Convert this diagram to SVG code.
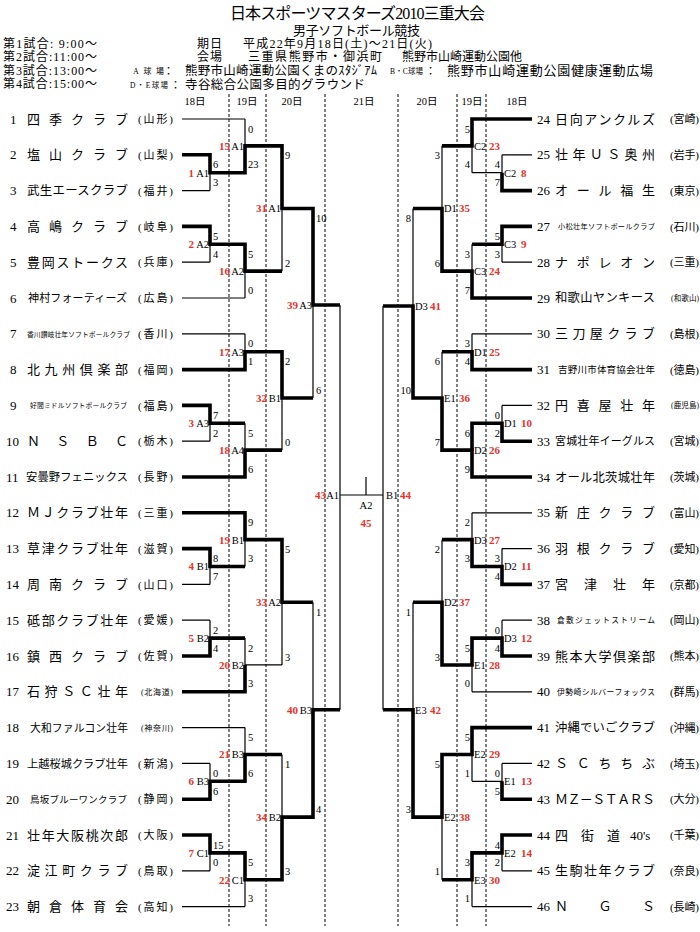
<svg xmlns="http://www.w3.org/2000/svg" width="700" height="932" viewBox="0 0 700 932">
<style>
text{font-family:"Liberation Serif","Noto Sans CJK JP",serif;fill:#000}
.no{font-size:13px}
.nm{font-size:13px}
.pf{font-size:11px}
.sc{font-size:10.5px}
.cd{font-size:10.5px}
.rd{font-size:11px;fill:#e8322c;font-weight:bold}
.dy{font-size:10.5px;text-anchor:middle}
.e{text-anchor:end}
.m{text-anchor:middle}
.ln{fill:none;stroke:#000;stroke-width:1.2}
.w{fill:none;stroke:#000;stroke-width:3.6;stroke-linejoin:miter}
.dash{stroke:#000;stroke-width:1;stroke-dasharray:3 2}
</style>
<rect width="700" height="932" fill="#fff"/>
<g id="header">
<text x="230" y="19" font-size="16" textLength="255">日本スポーツマスターズ2010三重大会</text>
<text x="293" y="35" font-size="13" textLength="127">男子ソフトボール競技</text>
<text x="3" y="47.5" font-size="12" textLength="94">第1試合: 9:00～</text>
<text x="3" y="61" font-size="12" textLength="94">第2試合:11:00～</text>
<text x="3" y="74.5" font-size="12" textLength="94">第3試合:13:00～</text>
<text x="3" y="88" font-size="12" textLength="94">第4試合:15:00～</text>
<text x="197" y="47.5" font-size="12" textLength="25">期日</text>
<text x="243" y="47.5" font-size="12" textLength="189">平成22年9月18日(土)～21日(火)</text>
<text x="197" y="61" font-size="12" textLength="25">会場</text>
<text x="248" y="61" font-size="12" textLength="134">三重県熊野市・御浜町</text>
<text x="402" y="61" font-size="12" textLength="120">熊野市山崎運動公園他</text>
<text x="133" y="74" font-size="8" textLength="31">A球場</text>
<text x="163" y="74.5" font-size="11">：</text>
<text x="185" y="74.5" font-size="12.5" textLength="192">熊野市山崎運動公園くまのｽﾀｼﾞｱﾑ</text>
<text x="390" y="74" font-size="7.5" textLength="33">B・C球場</text>
<text x="425" y="74.5" font-size="11">：</text>
<text x="447" y="75" font-size="13" textLength="206">熊野市山崎運動公園健康運動広場</text>
<text x="130" y="87.5" font-size="7.5" textLength="38">D・E球場</text>
<text x="170" y="88.5" font-size="11">：</text>
<text x="185" y="88.5" font-size="12.5" textLength="180">寺谷総合公園多目的グラウンド</text>
<text class="dy" x="195" y="105">18日</text>
<text class="dy" x="247" y="105">19日</text>
<text class="dy" x="292" y="105">20日</text>
<text class="dy" x="364" y="105">21日</text>
<text class="dy" x="427" y="105">20日</text>
<text class="dy" x="472" y="105">19日</text>
<text class="dy" x="517" y="105">18日</text>
</g>
<g id="day-lines">
<path class="dash" d="M229 94V926M266 94V926M325 94V926M398 94V926M457 94V926M486 94V926"/>
</g>
<g id="connectors">
<path class="ln" d="M182 119H245M182 154.8H210M182 190.6H210M182 226.4H210M182 262.2H210M182 298H245M182 333.8H245M182 369.6H245M182 405.4H210M182 441.2H210M182 477H245M182 512.8H245M182 548.6H210M182 584.4H210M182 620.2H210M182 656H210M182 691.8H245M182 727.6H245M182 763.4H210M182 799.2H210M182 835H210M182 870.8H210M182 906.6H245
M210 154.8V190.6M210 172.7H245M210 226.4V262.2M210 244.3H245M210 405.4V441.2M210 423.3H245M210 548.6V584.4M210 566.5H245M210 620.2V656M210 638.1H245M210 763.4V799.2M210 781.3H245M210 835V870.8M210 852.9H245
M245 119V172.7M245 145.85H282M245 244.3V298M245 271.15H282M245 333.8V369.6M245 351.7H282M245 423.3V477M245 450.15H282M245 512.8V566.5M245 539.65H282M245 638.1V691.8M245 664.95H282M245 727.6V781.3M245 754.45H282M245 852.9V906.6M245 879.75H282
M282 145.85V271.15M282 208.5H313M282 351.7V450.15M282 398H313M282 539.65V664.95M282 602.3H313M282 754.45V879.75M282 817.1H313
M313 208.5V398M313 305H340M313 602.3V817.1M313 709.7H340
M340 305V709.7M340 495H383M366 477V495M383 306V709.7"/>
<path class="ln" d="M532 119H472M532 154.8H502M532 190.6H502M532 226.4H502M532 262.2H502M532 298H472M532 333.8H472M532 369.6H472M532 405.4H502M532 441.2H502M532 477H472M532 512.8H472M532 548.6H502M532 584.4H502M532 620.2H502M532 656H502M532 691.8H472M532 727.6H472M532 763.4H502M532 799.2H502M532 835H502M532 870.8H502M532 906.6H472
M502 154.8V190.6M502 172.7H472M502 226.4V262.2M502 244.3H472M502 405.4V441.2M502 423.3H472M502 548.6V584.4M502 566.5H472M502 620.2V656M502 638.1H472M502 763.4V799.2M502 781.3H472M502 835V870.8M502 852.9H472
M472 119V172.7M472 145.85H442M472 244.3V298M472 271.15H442M472 333.8V369.6M472 351.7H442M472 423.3V477M472 450.15H442M472 512.8V566.5M472 539.65H442M472 638.1V691.8M472 664.95H442M472 727.6V781.3M472 754.45H442M472 852.9V906.6M472 879.75H442
M442 145.85V271.15M442 208.5H413M442 351.7V450.15M442 398H413M442 539.65V664.95M442 602.3H413M442 754.45V879.75M442 817.1H413
M413 208.5V398M413 306H383M413 602.3V817.1M413 709.7H383"/>
<path class="w" d="M182 154.8H210V172.7H245V145.85H282V208.5H313V305H340"/>
<path class="w" d="M182 226.4H210V244.3H245V271.15H282"/>
<path class="w" d="M182 369.6H245V351.7H282V398H313"/>
<path class="w" d="M182 405.4H210V423.3H245"/>
<path class="w" d="M182 477H245V450.15H282"/>
<path class="w" d="M182 512.8H245V539.65H282V602.3H313"/>
<path class="w" d="M182 548.6H210V566.5H245"/>
<path class="w" d="M182 656H210V638.1H245"/>
<path class="w" d="M182 691.8H245V664.95"/>
<path class="w" d="M182 799.2H210V781.3H245V754.45H282"/>
<path class="w" d="M182 835H210V852.9H245V879.75H282V817.1H313V709.7H340"/>
<path class="w" d="M532 119H472V145.85H442"/>
<path class="w" d="M532 190.6H502V172.7"/>
<path class="w" d="M532 226.4H502V244.3H472"/>
<path class="w" d="M532 298H472V271.15H442V208.5H413"/>
<path class="w" d="M532 369.6H472V351.7H442"/>
<path class="w" d="M532 441.2H502V423.3H472V450.15"/>
<path class="w" d="M532 477H472V450.15H442V398H413V306H383"/>
<path class="w" d="M532 584.4H502V566.5H472V539.65H442"/>
<path class="w" d="M532 656H502V638.1H472V664.95H442V602.3H413"/>
<path class="w" d="M532 727.6H472V754.45H442V817.1H413V709.7H383"/>
<path class="w" d="M532 799.2H502V781.3"/>
<path class="w" d="M532 835H502V852.9H472V879.75H442"/>
</g>
<g id="teams-left">
<g id="team-1"><text class="no" x="10" y="123.5">1</text><text class="nm" x="27" y="123.5" textLength="101">四季クラブ</text><text class="pf" x="138" y="123.2" textLength="35">(山形)</text></g>
<g id="team-2"><text class="no" x="10" y="159.3">2</text><text class="nm" x="27" y="159.3" textLength="101">塩山クラブ</text><text class="pf" x="138" y="159" textLength="35">(山梨)</text></g>
<g id="team-3"><text class="no" x="10" y="195.1">3</text><text class="nm" x="27" y="195.1" textLength="101" style="font-size:12.5px">武生エースクラブ</text><text class="pf" x="138" y="194.8" textLength="35">(福井)</text></g>
<g id="team-4"><text class="no" x="10" y="230.9">4</text><text class="nm" x="27" y="230.9" textLength="101">高嶋クラブ</text><text class="pf" x="138" y="230.6" textLength="35">(岐阜)</text></g>
<g id="team-5"><text class="no" x="10" y="266.7">5</text><text class="nm" x="27" y="266.7" textLength="101">豊岡ストークス</text><text class="pf" x="138" y="266.4" textLength="35">(兵庫)</text></g>
<g id="team-6"><text class="no" x="10" y="302.5">6</text><text class="nm" x="28" y="302.3" textLength="99" style="font-size:11px">神村フォーティーズ</text><text class="pf" x="138" y="302.2" textLength="35">(広島)</text></g>
<g id="team-7"><text class="no" x="10" y="338.3">7</text><text class="nm" x="27" y="336.6" textLength="103" style="font-size:6.8px">香川讃岐壮年ソフトボールクラブ</text><text class="pf" x="138" y="338" textLength="35">(香川)</text></g>
<g id="team-8"><text class="no" x="10" y="374.1">8</text><text class="nm" x="27" y="374.1" textLength="101">北九州倶楽部</text><text class="pf" x="138" y="373.8" textLength="35">(福岡)</text></g>
<g id="team-9"><text class="no" x="10" y="409.9">9</text><text class="nm" x="30" y="408.2" textLength="97" style="font-size:6.8px">好間ミドルソフトボールクラブ</text><text class="pf" x="138" y="409.6" textLength="35">(福島)</text></g>
<g id="team-10"><text class="no" x="6" y="445.7">10</text><text class="nm" x="27" y="445.7" textLength="101">ＮＳＢＣ</text><text class="pf" x="138" y="445.4" textLength="35">(栃木)</text></g>
<g id="team-11"><text class="no" x="6" y="481.5">11</text><text class="nm" x="26" y="481.2" textLength="102" style="font-size:11.3px">安曇野フェニックス</text><text class="pf" x="138" y="481.2" textLength="35">(長野)</text></g>
<g id="team-12"><text class="no" x="6" y="517.3">12</text><text class="nm" x="27" y="517.3" textLength="101">ＭＪクラブ壮年</text><text class="pf" x="138" y="517" textLength="35">(三重)</text></g>
<g id="team-13"><text class="no" x="6" y="553.1">13</text><text class="nm" x="27" y="553.1" textLength="101">草津クラブ壮年</text><text class="pf" x="138" y="552.8" textLength="35">(滋賀)</text></g>
<g id="team-14"><text class="no" x="6" y="588.9">14</text><text class="nm" x="27" y="588.9" textLength="101">周南クラブ</text><text class="pf" x="138" y="588.6" textLength="35">(山口)</text></g>
<g id="team-15"><text class="no" x="6" y="624.7">15</text><text class="nm" x="27" y="624.7" textLength="101">砥部クラブ壮年</text><text class="pf" x="138" y="624.4" textLength="35">(愛媛)</text></g>
<g id="team-16"><text class="no" x="6" y="660.5">16</text><text class="nm" x="27" y="660.5" textLength="101">鎮西クラブ</text><text class="pf" x="138" y="660.2" textLength="35">(佐賀)</text></g>
<g id="team-17"><text class="no" x="6" y="696.3">17</text><text class="nm" x="27" y="696.3" textLength="101">石狩ＳＣ壮年</text><text class="pf" x="141" y="694.8" textLength="32" style="font-size:8px">(北海道)</text></g>
<g id="team-18"><text class="no" x="6" y="732.1">18</text><text class="nm" x="30" y="731.8" textLength="98" style="font-size:10.8px">大和ファルコン壮年</text><text class="pf" x="141" y="730.6" textLength="32" style="font-size:8px">(神奈川)</text></g>
<g id="team-19"><text class="no" x="6" y="767.9">19</text><text class="nm" x="27" y="767.6" textLength="101" style="font-size:11.2px">上越桜城クラブ壮年</text><text class="pf" x="138" y="767.6" textLength="35">(新潟)</text></g>
<g id="team-20"><text class="no" x="6" y="803.7">20</text><text class="nm" x="30" y="802.8" textLength="97" style="font-size:9.5px">鳥坂ブルーワンクラブ</text><text class="pf" x="138" y="803.4" textLength="35">(静岡)</text></g>
<g id="team-21"><text class="no" x="6" y="839.5">21</text><text class="nm" x="27" y="839.5" textLength="101">壮年大阪桃次郎</text><text class="pf" x="138" y="839.2" textLength="35">(大阪)</text></g>
<g id="team-22"><text class="no" x="6" y="875.3">22</text><text class="nm" x="27" y="875.3" textLength="101">淀江町クラブ</text><text class="pf" x="138" y="875" textLength="35">(鳥取)</text></g>
<g id="team-23"><text class="no" x="6" y="911.1">23</text><text class="nm" x="27" y="911.1" textLength="101">朝倉体育会</text><text class="pf" x="138" y="910.8" textLength="35">(高知)</text></g>
</g>
<g id="teams-right">
<g id="team-24"><text class="no" x="537" y="123.5">24</text><text class="nm" x="555" y="123.5" textLength="100">日向アンクルズ</text><text class="pf" x="670" y="123.2" textLength="29">(宮崎)</text></g>
<g id="team-25"><text class="no" x="537" y="159.3">25</text><text class="nm" x="555" y="159.3" textLength="100">壮年ＵＳ奥州</text><text class="pf" x="670" y="159" textLength="29">(岩手)</text></g>
<g id="team-26"><text class="no" x="537" y="195.1">26</text><text class="nm" x="555" y="195.1" textLength="100">オール福生</text><text class="pf" x="670" y="194.8" textLength="29">(東京)</text></g>
<g id="team-27"><text class="no" x="537" y="230.9">27</text><text class="nm" x="558" y="229.2" textLength="97" style="font-size:7.2px">小松壮年ソフトボールクラブ</text><text class="pf" x="670" y="230.6" textLength="29">(石川)</text></g>
<g id="team-28"><text class="no" x="537" y="266.7">28</text><text class="nm" x="555" y="266.7" textLength="100">ナポレオン</text><text class="pf" x="670" y="266.4" textLength="29">(三重)</text></g>
<g id="team-29"><text class="no" x="537" y="302.5">29</text><text class="nm" x="555" y="302.4" textLength="100" style="font-size:12.3px">和歌山ヤンキース</text><text class="pf" x="671" y="300.8" textLength="28" style="font-size:7.5px">(和歌山)</text></g>
<g id="team-30"><text class="no" x="537" y="338.3">30</text><text class="nm" x="555" y="338.3" textLength="100">三刀屋クラブ</text><text class="pf" x="670" y="338" textLength="29">(島根)</text></g>
<g id="team-31"><text class="no" x="537" y="374.1">31</text><text class="nm" x="558" y="373.2" textLength="97" style="font-size:9.5px">吉野川市体育協会壮年</text><text class="pf" x="670" y="373.8" textLength="29">(徳島)</text></g>
<g id="team-32"><text class="no" x="537" y="409.9">32</text><text class="nm" x="555" y="409.9" textLength="100">円喜屋壮年</text><text class="pf" x="671" y="408.2" textLength="28" style="font-size:7.5px">(鹿児島)</text></g>
<g id="team-33"><text class="no" x="537" y="445.7">33</text><text class="nm" x="555" y="445.4" textLength="100" style="font-size:11px">宮城壮年イーグルス</text><text class="pf" x="670" y="445.4" textLength="29">(宮城)</text></g>
<g id="team-34"><text class="no" x="537" y="481.5">34</text><text class="nm" x="555" y="481.5" textLength="100" style="font-size:12.3px">オール北茨城壮年</text><text class="pf" x="670" y="481.2" textLength="29">(茨城)</text></g>
<g id="team-35"><text class="no" x="537" y="517.3">35</text><text class="nm" x="555" y="517.3" textLength="100">新庄クラブ</text><text class="pf" x="670" y="517" textLength="29">(富山)</text></g>
<g id="team-36"><text class="no" x="537" y="553.1">36</text><text class="nm" x="555" y="553.1" textLength="100">羽根クラブ</text><text class="pf" x="670" y="552.8" textLength="29">(愛知)</text></g>
<g id="team-37"><text class="no" x="537" y="588.9">37</text><text class="nm" x="555" y="588.9" textLength="100">宮津壮年</text><text class="pf" x="670" y="588.6" textLength="29">(京都)</text></g>
<g id="team-38"><text class="no" x="537" y="624.7">38</text><text class="nm" x="557" y="623.3" textLength="98" style="font-size:7.8px">倉敷ジェットストリーム</text><text class="pf" x="670" y="624.4" textLength="29">(岡山)</text></g>
<g id="team-39"><text class="no" x="537" y="660.5">39</text><text class="nm" x="555" y="660.5" textLength="100">熊本大学倶楽部</text><text class="pf" x="670" y="660.2" textLength="29">(熊本)</text></g>
<g id="team-40"><text class="no" x="537" y="696.3">40</text><text class="nm" x="557" y="694.9" textLength="98" style="font-size:7.8px">伊勢崎シルバーフォックス</text><text class="pf" x="670" y="696" textLength="29">(群馬)</text></g>
<g id="team-41"><text class="no" x="537" y="732.1">41</text><text class="nm" x="555" y="732" textLength="100" style="font-size:12.3px">沖縄でいごクラブ</text><text class="pf" x="670" y="731.8" textLength="29">(沖縄)</text></g>
<g id="team-42"><text class="no" x="537" y="767.9">42</text><text class="nm" x="555" y="767.9" textLength="100">ＳＣちちぶ</text><text class="pf" x="670" y="767.6" textLength="29">(埼玉)</text></g>
<g id="team-43"><text class="no" x="537" y="803.7">43</text><text class="nm" x="555" y="803.7" textLength="100">ＭＺ－ＳＴＡＲＳ</text><text class="pf" x="670" y="803.4" textLength="29">(大分)</text></g>
<g id="team-44"><text class="no" x="537" y="839.5">44</text><text class="nm" x="555" y="839.5">四<tspan x="581">街</tspan><tspan x="607">道</tspan><tspan x="630">40's</tspan></text><text class="pf" x="670" y="839.2" textLength="29">(千葉)</text></g>
<g id="team-45"><text class="no" x="537" y="875.3">45</text><text class="nm" x="555" y="875.3" textLength="100">生駒壮年クラブ</text><text class="pf" x="670" y="875" textLength="29">(奈良)</text></g>
<g id="team-46"><text class="no" x="537" y="911.1">46</text><text class="nm" x="555" y="911.1" textLength="100">ＮＧＳ</text><text class="pf" x="670" y="910.8" textLength="29">(長崎)</text></g>
</g>
<g id="matches-left">
<g id="m1"><text class="rd e" x="194" y="176.5">1</text><text class="cd e" x="209" y="176.5">A1</text><text class="sc" x="213" y="168.3">6</text><text class="sc" x="213" y="186.1">3</text></g>
<g id="m2"><text class="rd e" x="194" y="248.1">2</text><text class="cd e" x="209" y="248.1">A2</text><text class="sc" x="213" y="239.9">5</text><text class="sc" x="213" y="257.7">4</text></g>
<g id="m3"><text class="rd e" x="194" y="427.1">3</text><text class="cd e" x="209" y="427.1">A3</text><text class="sc" x="213" y="418.9">7</text><text class="sc" x="213" y="436.7">2</text></g>
<g id="m4"><text class="rd e" x="194" y="570.3">4</text><text class="cd e" x="209" y="570.3">B1</text><text class="sc" x="213" y="562.1">8</text><text class="sc" x="213" y="579.9">7</text></g>
<g id="m5"><text class="rd e" x="194" y="641.9">5</text><text class="cd e" x="209" y="641.9">B2</text><text class="sc" x="213" y="633.7">2</text><text class="sc" x="213" y="651.5">4</text></g>
<g id="m6"><text class="rd e" x="194" y="785.1">6</text><text class="cd e" x="209" y="785.1">B3</text><text class="sc" x="213" y="776.9">0</text><text class="sc" x="213" y="794.7">6</text></g>
<g id="m7"><text class="rd e" x="194" y="856.7">7</text><text class="cd e" x="209" y="856.7">C1</text><text class="sc" x="213" y="848.5">15</text><text class="sc" x="213" y="866.3">0</text></g>
<g id="m15"><text class="rd e" x="230" y="149.7">15</text><text class="cd e" x="244" y="149.7">A1</text><text class="sc" x="248" y="132.5">0</text><text class="sc" x="248" y="168.2">23</text></g>
<g id="m16"><text class="rd e" x="230" y="275">16</text><text class="cd e" x="244" y="275">A2</text><text class="sc" x="248" y="257.8">5</text><text class="sc" x="248" y="293.5">0</text></g>
<g id="m17"><text class="rd e" x="230" y="355.5">17</text><text class="cd e" x="244" y="355.5">A3</text><text class="sc" x="248" y="347.3">0</text><text class="sc" x="248" y="365.1">1</text></g>
<g id="m18"><text class="rd e" x="230" y="454">18</text><text class="cd e" x="244" y="454">A4</text><text class="sc" x="248" y="436.8">5</text><text class="sc" x="248" y="472.5">6</text></g>
<g id="m19"><text class="rd e" x="230" y="543.5">19</text><text class="cd e" x="244" y="543.5">B1</text><text class="sc" x="248" y="526.3">9</text><text class="sc" x="248" y="562">3</text></g>
<g id="m20"><text class="rd e" x="230" y="668.8">20</text><text class="cd e" x="244" y="668.8">B2</text><text class="sc" x="248" y="651.6">2</text><text class="sc" x="248" y="687.3">3</text></g>
<g id="m21"><text class="rd e" x="230" y="758.3">21</text><text class="cd e" x="244" y="758.3">B3</text><text class="sc" x="248" y="741.1">5</text><text class="sc" x="248" y="776.8">6</text></g>
<g id="m22"><text class="rd e" x="230" y="883.6">22</text><text class="cd e" x="244" y="883.6">C1</text><text class="sc" x="248" y="866.4">5</text><text class="sc" x="248" y="902.1">3</text></g>
<g id="m31"><text class="rd e" x="267" y="212.3">31</text><text class="cd e" x="281" y="212.3">A1</text><text class="sc" x="285" y="159.4">9</text><text class="sc" x="285" y="266.7">2</text></g>
<g id="m32"><text class="rd e" x="267" y="401.8">32</text><text class="cd e" x="281" y="401.8">B1</text><text class="sc" x="285" y="365.2">2</text><text class="sc" x="285" y="445.7">0</text></g>
<g id="m33"><text class="rd e" x="267" y="606.1">33</text><text class="cd e" x="281" y="606.1">A2</text><text class="sc" x="285" y="553.2">5</text><text class="sc" x="285" y="660.5">3</text></g>
<g id="m34"><text class="rd e" x="267" y="820.9">34</text><text class="cd e" x="281" y="820.9">B2</text><text class="sc" x="285" y="768">1</text><text class="sc" x="285" y="875.3">3</text></g>
<g id="m39"><text class="rd e" x="298" y="308.8">39</text><text class="cd e" x="312" y="308.8">A3</text><text class="sc" x="316" y="222">10</text><text class="sc" x="316" y="393.5">6</text></g>
<g id="m40"><text class="rd e" x="298" y="713.5">40</text><text class="cd e" x="312" y="713.5">B3</text><text class="sc" x="316" y="615.8">1</text><text class="sc" x="316" y="812.6">4</text></g>
<g id="m43"><text class="rd e" x="326" y="498.8">43</text><text class="cd e" x="339" y="498.8">A1</text></g>
</g>
<g id="final">
<g id="m45"><text class="cd m" x="366" y="508.5">A2</text><text class="rd m" x="366" y="527">45</text></g>
</g>
<g id="matches-right">
<g id="m8"><text class="cd" x="504" y="176.5">C2</text><text class="rd" x="521" y="176.5">8</text><text class="sc e" x="500" y="168.3">4</text><text class="sc e" x="500" y="186.1">7</text></g>
<g id="m9"><text class="cd" x="504" y="248.1">C3</text><text class="rd" x="521" y="248.1">9</text><text class="sc e" x="500" y="239.9">5</text><text class="sc e" x="500" y="257.7">3</text></g>
<g id="m10"><text class="cd" x="504" y="427.1">D1</text><text class="rd" x="521" y="427.1">10</text><text class="sc e" x="500" y="418.9">0</text><text class="sc e" x="500" y="436.7">2</text></g>
<g id="m11"><text class="cd" x="504" y="570.3">D2</text><text class="rd" x="521" y="570.3">11</text><text class="sc e" x="500" y="562.1">3</text><text class="sc e" x="500" y="579.9">4</text></g>
<g id="m12"><text class="cd" x="504" y="641.9">D3</text><text class="rd" x="521" y="641.9">12</text><text class="sc e" x="500" y="633.7">0</text><text class="sc e" x="500" y="651.5">4</text></g>
<g id="m13"><text class="cd" x="504" y="785.1">E1</text><text class="rd" x="521" y="785.1">13</text><text class="sc e" x="500" y="776.9">0</text><text class="sc e" x="500" y="794.7">5</text></g>
<g id="m14"><text class="cd" x="504" y="856.7">E2</text><text class="rd" x="521" y="856.7">14</text><text class="sc e" x="500" y="848.5">4</text><text class="sc e" x="500" y="866.3">2</text></g>
<g id="m23"><text class="cd" x="474" y="149.7">C2</text><text class="rd" x="489" y="149.7">23</text><text class="sc e" x="470" y="132.5">5</text><text class="sc e" x="470" y="168.2">4</text></g>
<g id="m24"><text class="cd" x="474" y="275">C3</text><text class="rd" x="489" y="275">24</text><text class="sc e" x="470" y="257.8">3</text><text class="sc e" x="470" y="293.5">7</text></g>
<g id="m25"><text class="cd" x="474" y="355.5">D1</text><text class="rd" x="489" y="355.5">25</text><text class="sc e" x="470" y="347.3">3</text><text class="sc e" x="470" y="365.1">4</text></g>
<g id="m26"><text class="cd" x="474" y="454">D2</text><text class="rd" x="489" y="454">26</text><text class="sc e" x="470" y="436.8">6</text><text class="sc e" x="470" y="472.5">9</text></g>
<g id="m27"><text class="cd" x="474" y="543.5">D3</text><text class="rd" x="489" y="543.5">27</text><text class="sc e" x="470" y="526.3">2</text><text class="sc e" x="470" y="562">3</text></g>
<g id="m28"><text class="cd" x="474" y="668.8">E1</text><text class="rd" x="489" y="668.8">28</text><text class="sc e" x="470" y="651.6">5</text><text class="sc e" x="470" y="687.3">0</text></g>
<g id="m29"><text class="cd" x="474" y="758.3">E2</text><text class="rd" x="489" y="758.3">29</text><text class="sc e" x="470" y="741.1">5</text><text class="sc e" x="470" y="776.8">1</text></g>
<g id="m30"><text class="cd" x="474" y="883.6">E3</text><text class="rd" x="489" y="883.6">30</text><text class="sc e" x="470" y="866.4">3</text><text class="sc e" x="470" y="902.1">1</text></g>
<g id="m35"><text class="cd" x="444" y="212.3">D1</text><text class="rd" x="459" y="212.3">35</text><text class="sc e" x="440" y="159.4">3</text><text class="sc e" x="440" y="266.7">6</text></g>
<g id="m36"><text class="cd" x="444" y="401.8">E1</text><text class="rd" x="459" y="401.8">36</text><text class="sc e" x="440" y="365.2">6</text><text class="sc e" x="440" y="445.7">7</text></g>
<g id="m37"><text class="cd" x="444" y="606.1">D2</text><text class="rd" x="459" y="606.1">37</text><text class="sc e" x="440" y="553.2">2</text><text class="sc e" x="440" y="660.5">3</text></g>
<g id="m38"><text class="cd" x="444" y="820.9">E2</text><text class="rd" x="459" y="820.9">38</text><text class="sc e" x="440" y="768">5</text><text class="sc e" x="440" y="875.3">1</text></g>
<g id="m41"><text class="cd" x="415" y="309.8">D3</text><text class="rd" x="430" y="309.8">41</text><text class="sc e" x="411" y="222">8</text><text class="sc e" x="411" y="393.5">10</text></g>
<g id="m42"><text class="cd" x="415" y="713.5">E3</text><text class="rd" x="430" y="713.5">42</text><text class="sc e" x="411" y="615.8">1</text><text class="sc e" x="411" y="812.6">3</text></g>
<g id="m44"><text class="cd" x="386" y="498.8">B1</text><text class="rd" x="400" y="498.8">44</text></g>
</g>
</svg>
